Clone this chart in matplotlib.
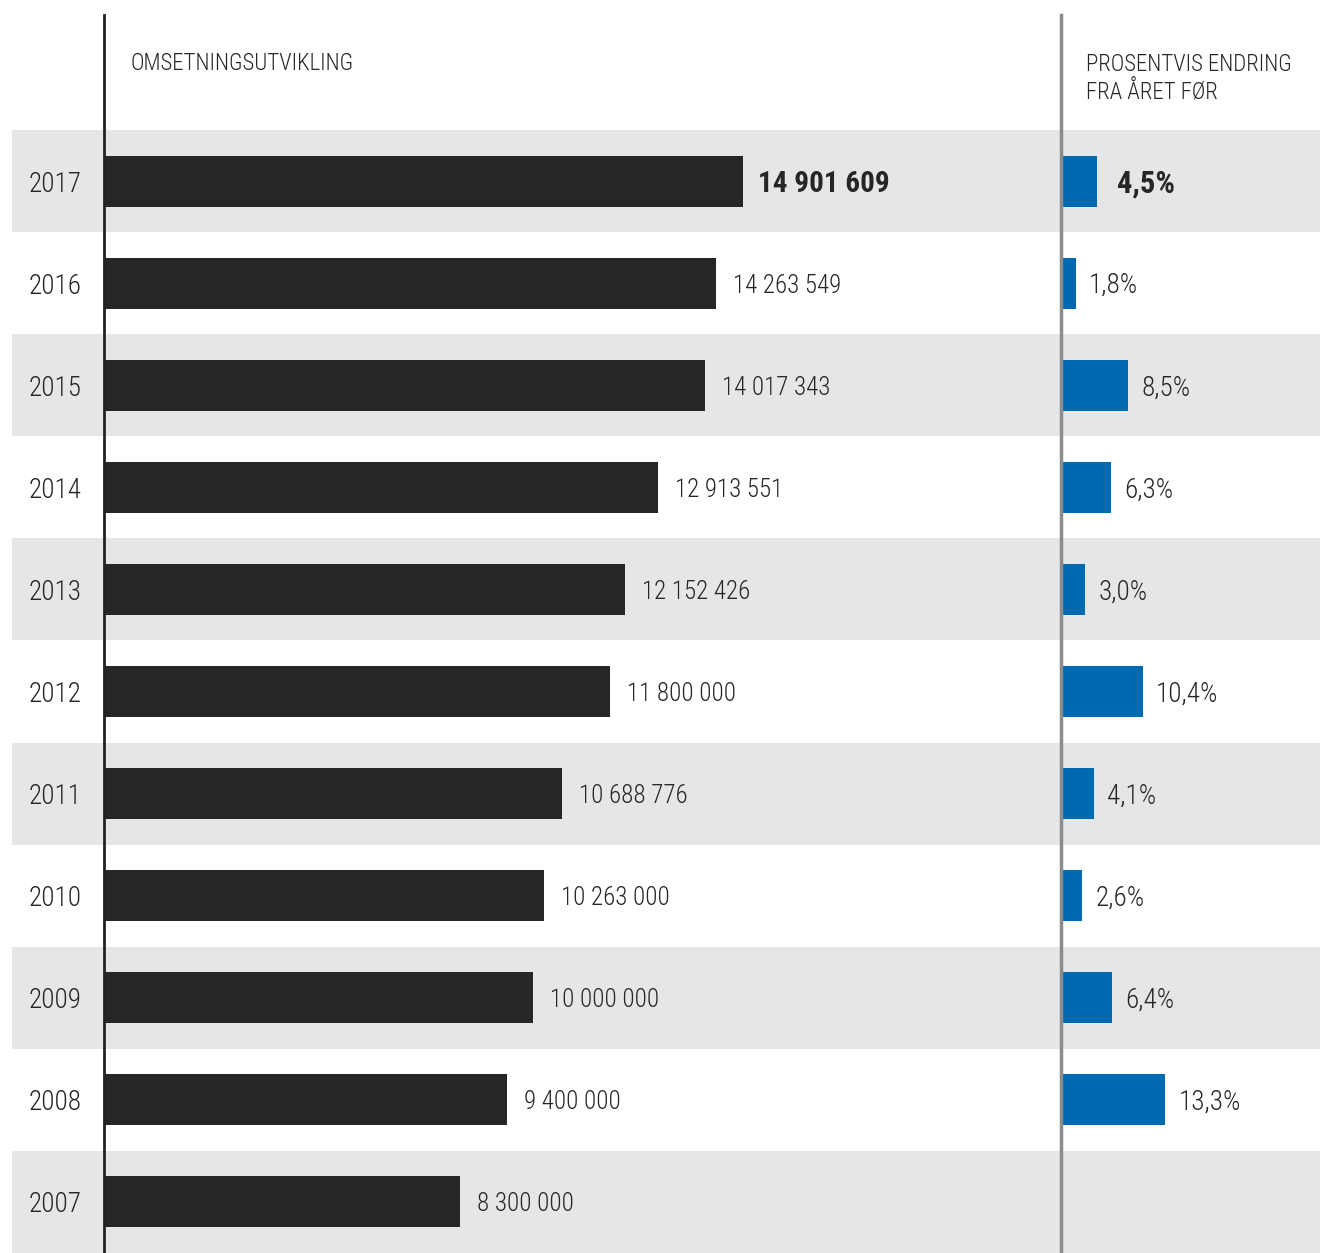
import matplotlib.pyplot as plt
from matplotlib.lines import Line2D
from matplotlib.transforms import ScaledTranslation
from matplotlib import font_manager as fm

# Data
years = ['2017', '2016', '2015', '2014', '2013', '2012', '2011', '2010', '2009', '2008', '2007']
revenue = [14901609, 14263549, 14017343, 12913551, 12152426, 11800000,
           10688776, 10263000, 10000000, 9400000, 8300000]
revenue_labels = ['14 901 609', '14 263 549', '14 017 343', '12 913 551', '12 152 426',
                  '11 800 000', '10 688 776', '10 263 000', '10 000 000', '9 400 000', '8 300 000']
pct_change = [4.5, 1.8, 8.5, 6.3, 3.0, 10.4, 4.1, 2.6, 6.4, 13.3]
pct_labels = ['4,5%', '1,8%', '8,5%', '6,3%', '3,0%', '10,4%', '4,1%', '2,6%', '6,4%', '13,3%']

# look for a condensed face, the reference uses a narrow DIN-like font
condensed = ('condensed', 'semi-condensed', 'extra-condensed', 'ultra-condensed')
found = []
for f in fm.fontManager.ttflist:
    if 'Narrow' in f.name or 'Condensed' in f.name or f.stretch in condensed \
            or (isinstance(f.stretch, int) and f.stretch < 500):
        found.append(f)
order = ['Roboto', 'Liberation', 'Noto Sans', 'Open Sans', 'DejaVu']


def rank(f):
    for k, name in enumerate(order):
        if f.name.startswith(name):
            return k
    return 99


def pick(weights):
    c = [f for f in found if f.weight in weights and f.style == 'normal']
    return sorted(c, key=rank)


regular = pick((400, 'normal', 'regular'))
if regular:
    fam = regular[0].name
    light = [f for f in pick((300, 'light')) if f.name == fam]
    bold = [f for f in pick((700, 'bold')) if f.name == fam]
    fp = fm.FontProperties(fname=(light or regular)[0].fname)
    fpb = fm.FontProperties(fname=bold[0].fname) if bold else fm.FontProperties(fname=regular[0].fname, weight='bold')
    fs = 18
else:
    fp = fm.FontProperties(family='Roboto', weight='light')
    fpb = fm.FontProperties(family='Roboto', weight='bold')
    fs = 16

W, H = 1320, 1253
dark = '#262626'
blue = '#006AB0'
band = '#E5E6E8'

fig = plt.figure(figsize=(W / 100, H / 100), dpi=100)
top = 130
rows = range(len(years))
down = ScaledTranslation(0, -2.5 / 100, fig.dpi_scale_trans)

# background bands
bg = fig.add_axes([12 / W, 0, (W - 12) / W, (H - top) / H])
bg.set_ylim(len(years) - 0.5, -0.5)
bg.set_xlim(0, 1)
for i in rows:
    if i % 2 == 0:
        bg.axhspan(i - 0.5, i + 0.5, color=band, lw=0)
bg.axis('off')

# revenue bars
ax = fig.add_axes([104 / W, 0, (1061 - 104) / W, (H - top) / H])
ax.patch.set_alpha(0)
ax.barh(list(rows), revenue, height=0.5, color=dark)
ax.set_xlim(0, 957 / (639 / revenue[0]))
ax.set_ylim(len(years) - 0.5, -0.5)
ax.set_yticks(list(rows))
ax.set_yticklabels(years, fontproperties=fp, fontsize=fs + 1.5, color=dark)
for t in ax.get_yticklabels():
    t.set_transform(t.get_transform() + down)
ax.tick_params(axis='y', length=0, pad=16)
ax.set_xticks([])
for s in ax.spines.values():
    s.set_visible(False)
for i, (v, lab) in enumerate(zip(revenue, revenue_labels)):
    ax.annotate(lab, (v, i), xytext=(15 if i == 0 else 17, -2.5), textcoords='offset pixels',
                va='center', ha='left', fontproperties=fpb if i == 0 else fp,
                fontsize=fs + (3 if i == 0 else 0), color=dark)

# percent change bars
ax2 = fig.add_axes([1062 / W, 0, (W - 1062) / W, (H - top) / H])
ax2.patch.set_alpha(0)
ax2.barh(list(range(len(pct_change))), pct_change, height=0.5, color=blue)
ax2.set_xlim(0, (W - 1062) / 7.78)
ax2.set_ylim(len(years) - 0.5, -0.5)
ax2.axis('off')
for i, (v, lab) in enumerate(zip(pct_change, pct_labels)):
    ax2.annotate(lab, (v, i), xytext=(20 if i == 0 else 13, -2.5), textcoords='offset pixels',
                 va='center', ha='left', fontproperties=fpb if i == 0 else fp,
                 fontsize=fs + (4 if i == 0 else 1.5), color=dark)

# vertical dividers
fig.add_artist(Line2D([104 / W, 104 / W], [0, 1 - 15 / H], transform=fig.transFigure,
                      color='#222222', lw=2))
fig.add_artist(Line2D([1061 / W, 1061 / W], [0, 1 - 15 / H], transform=fig.transFigure,
                      color='#8c8c8c', lw=2.5))

# headers
fig.text(131 / W, 1 - 64 / H, 'OMSETNINGSUTVIKLING', fontproperties=fp, fontsize=16.5,
         color=dark, va='center')
fig.text(1086 / W, 1 - 78.5 / H, 'PROSENTVIS ENDRING\nFRA ÅRET FØR', fontproperties=fp,
         fontsize=16.5, color=dark, va='center', linespacing=1.22)

fig.savefig('out.png', dpi=100)
